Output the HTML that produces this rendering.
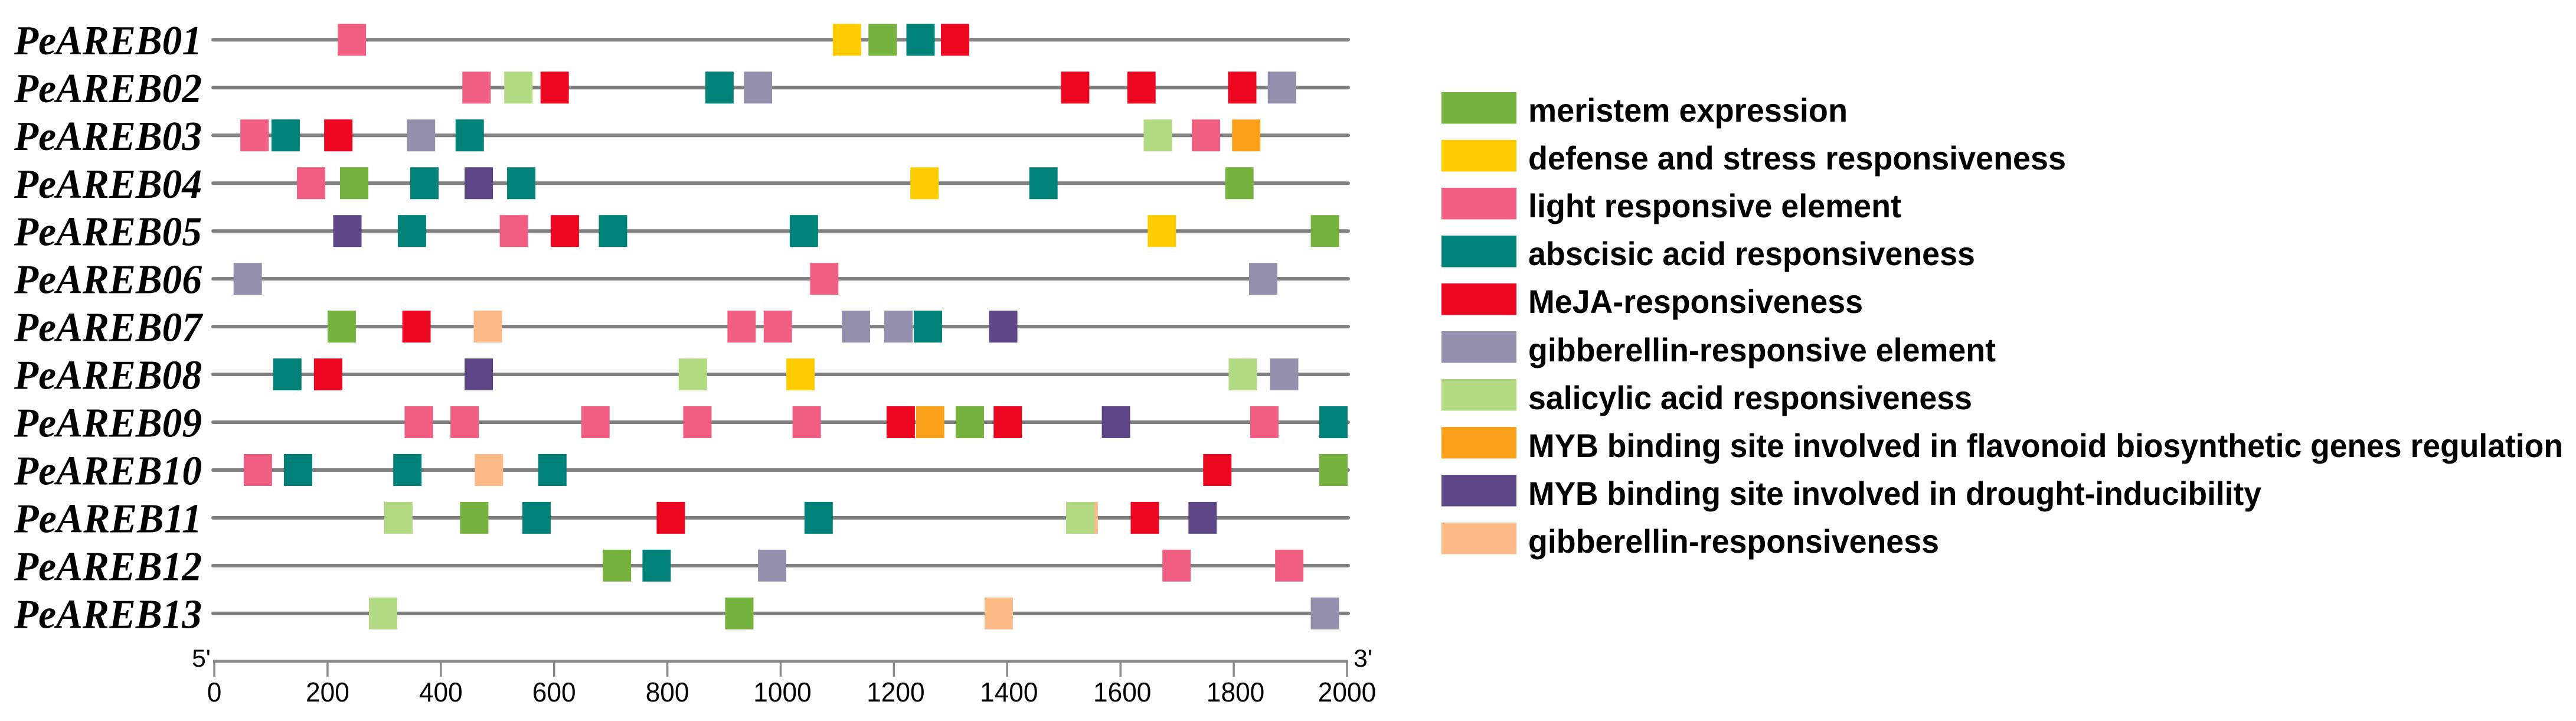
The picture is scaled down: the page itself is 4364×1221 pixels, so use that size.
<!DOCTYPE html>
<html lang="en">
<head>
<meta charset="utf-8">
<title>PeAREB promoter cis-elements</title>
<style>
html,body{margin:0;padding:0;background:#fff;width:4364px;height:1221px;overflow:hidden}
svg{display:block}
.gene{font-family:"Liberation Serif",serif;font-weight:bold;font-style:italic;font-size:70px;fill:#000}
.tick{font-family:"Liberation Sans",sans-serif;font-size:46px;fill:#000}
.prime{font-family:"Liberation Sans",sans-serif;font-size:42px;fill:#000}
.leg{font-family:"Liberation Sans",sans-serif;font-weight:bold;font-size:56px;fill:#000}
</style>
</head>
<body>
<svg id="chart" xmlns="http://www.w3.org/2000/svg" width="4364" height="1221" viewBox="0 0 4364 1221">
  <rect x="0" y="0" width="4364" height="1221" fill="#fff"/>
  <g id="tracks"></g>
  <g id="axis"></g>
  <text class="prime" x="325" y="1129" textLength="32" lengthAdjust="spacingAndGlyphs">5'</text>
  <text class="prime" x="2293" y="1129" textLength="32" lengthAdjust="spacingAndGlyphs">3'</text>
  <g>
    <g><rect x="2442" y="156" width="127" height="53.5" fill="#75B33E"/><text class="leg" x="2589" y="206" textLength="541" lengthAdjust="spacingAndGlyphs">meristem expression</text></g>
    <g><rect x="2442" y="237" width="127" height="53.5" fill="#FFCC00"/><text class="leg" x="2589" y="287" textLength="911" lengthAdjust="spacingAndGlyphs">defense and stress responsiveness</text></g>
    <g><rect x="2442" y="318" width="127" height="53.5" fill="#F05F82"/><text class="leg" x="2589" y="368" textLength="632" lengthAdjust="spacingAndGlyphs">light responsive element</text></g>
    <g><rect x="2442" y="399" width="127" height="53.5" fill="#008279"/><text class="leg" x="2589" y="449" textLength="757" lengthAdjust="spacingAndGlyphs">abscisic acid responsiveness</text></g>
    <g><rect x="2442" y="480" width="127" height="53.5" fill="#EC0720"/><text class="leg" x="2589" y="530" textLength="567" lengthAdjust="spacingAndGlyphs">MeJA-responsiveness</text></g>
    <g><rect x="2442" y="561" width="127" height="53.5" fill="#948FAD"/><text class="leg" x="2589" y="612" textLength="792" lengthAdjust="spacingAndGlyphs">gibberellin-responsive element</text></g>
    <g><rect x="2442" y="642" width="127" height="53.5" fill="#B2DA82"/><text class="leg" x="2589" y="693" textLength="752" lengthAdjust="spacingAndGlyphs">salicylic acid responsiveness</text></g>
    <g><rect x="2442" y="723" width="127" height="53.5" fill="#FCA11C"/><text class="leg" x="2589" y="774" textLength="1753" lengthAdjust="spacingAndGlyphs">MYB binding site involved in flavonoid biosynthetic genes regulation</text></g>
    <g><rect x="2442" y="804" width="127" height="53.5" fill="#5E4787"/><text class="leg" x="2589" y="855" textLength="1242" lengthAdjust="spacingAndGlyphs">MYB binding site involved in drought-inducibility</text></g>
    <g><rect x="2442" y="885" width="127" height="53.5" fill="#FBB988"/><text class="leg" x="2589" y="936" textLength="696" lengthAdjust="spacingAndGlyphs">gibberellin-responsiveness</text></g>
  </g>
</svg>
<script>
const genes = ["PeAREB01","PeAREB02","PeAREB03","PeAREB04","PeAREB05","PeAREB06","PeAREB07","PeAREB08","PeAREB09","PeAREB10","PeAREB11","PeAREB12","PeAREB13"];
const axisTicks = [0,200,400,600,800,1000,1200,1400,1600,1800,2000];
const motifLength = 50;
const motifStarts = [
  [218,1092,1155,1222,1283],
  [438,512,576,867,935,1495,1612,1790,1860],
  [46,101,194,340,426,1641,1726,1797],
  [146,222,346,442,517,1229,1439,1785],
  [210,324,504,594,679,1016,1648,1936],
  [34,1052,1827],
  [200,332,458,906,970,1108,1183,1235,1368],
  [104,176,442,820,1010,1791,1864],
  [336,417,648,828,1021,1187,1239,1309,1376,1567,1829,1951],
  [52,123,316,460,572,1746,1951],
  [300,434,544,781,1042,1510,1504,1618,1720],
  [686,756,960,1674,1873],
  [273,902,1360,1936]
];
const motifKinds = [
  ["light","defense","meristem","abscisic","meja"],
  ["light","salicylic","meja","abscisic","gibElement","meja","meja","meja","gibElement"],
  ["light","abscisic","meja","gibElement","abscisic","salicylic","light","mybFlavonoid"],
  ["light","meristem","abscisic","mybDrought","abscisic","defense","abscisic","meristem"],
  ["mybDrought","abscisic","light","meja","abscisic","abscisic","defense","meristem"],
  ["gibElement","light","gibElement"],
  ["meristem","meja","gibberellin","light","light","gibElement","gibElement","abscisic","mybDrought"],
  ["abscisic","meja","mybDrought","salicylic","defense","salicylic","gibElement"],
  ["light","light","light","light","light","meja","mybFlavonoid","meristem","meja","mybDrought","light","abscisic"],
  ["light","abscisic","abscisic","gibberellin","abscisic","meja","meristem"],
  ["salicylic","meristem","abscisic","meja","abscisic","gibberellin","salicylic","meja","mybDrought"],
  ["meristem","abscisic","gibElement","light","light"],
  ["salicylic","meristem","gibberellin","gibElement"]
];
const kindColors = {meristem:"#75B33E",defense:"#FFCC00",light:"#F05F82",abscisic:"#008279",meja:"#EC0720",gibElement:"#948FAD",salicylic:"#B2DA82",mybFlavonoid:"#FCA11C",mybDrought:"#5E4787",gibberellin:"#FBB988"};

const NS = "http://www.w3.org/2000/svg";
const xPos = v => 363 + v * (2282 - 363) / 2000;
const rowY = i => 67.4 + i * 80.95;
const boxH = 54;

function mk(tag, attrs, parent) {
  const el = document.createElementNS(NS, tag);
  for (const k in attrs) el.setAttribute(k, attrs[k]);
  parent.appendChild(el);
  return el;
}

const tracks = document.getElementById("tracks");
genes.forEach((g, i) => {
  const y = rowY(i);
  const label = mk("text", {class:"gene", x:24, y:y + 24.5, textLength:318, lengthAdjust:"spacingAndGlyphs"}, tracks);
  label.textContent = g;
  
  
  const line = mk("line", {x1:361, x2:2284, y1:y, y2:y, stroke:"#808080", "stroke-width":6, "stroke-linecap":"round"}, tracks);
  
  
  motifStarts[i].forEach((s, j) => {
    const box = mk("rect", {x:xPos(s), y:y - boxH / 2, width:xPos(s + motifLength) - xPos(s), height:boxH, fill:kindColors[motifKinds[i][j]]}, tracks);
    
    
  });
});

const axis = document.getElementById("axis");
const axisY = 1120;
const axisLine = mk("line", {x1:xPos(0) - 2, x2:xPos(2000) + 2, y1:axisY, y2:axisY, stroke:"#8a8a8a", "stroke-width":5}, axis);


axisTicks.forEach(t => {
  const mark = mk("line", {x1:xPos(t), x2:xPos(t), y1:axisY, y2:1146, stroke:"#8a8a8a", "stroke-width":3.5}, axis);
  
  
  const s = String(t);
  const lbl = mk("text", {class:"tick", x:xPos(t) + (t >= 1000 && t < 2000 ? 3 : 0), y:1188, "text-anchor":"middle", textLength:s.length * 24.6, lengthAdjust:"spacingAndGlyphs"}, axis);
  lbl.textContent = s;
  
  
});
</script>
</body>
</html>
